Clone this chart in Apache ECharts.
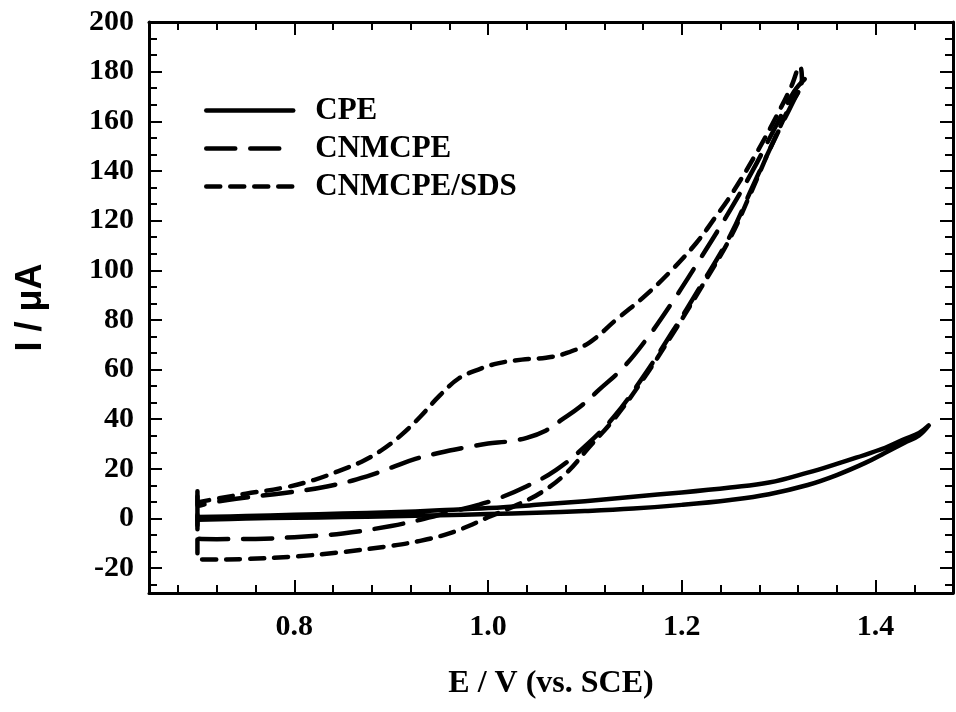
<!DOCTYPE html>
<html>
<head>
<meta charset="utf-8">
<script src="https://cdn.jsdelivr.net/npm/echarts@6/dist/echarts.min.js"></script>
<style>
  html, body { margin: 0; padding: 0; background: #fff; }
  #cv { width: 956px; height: 712px; }
</style>
</head>
<body>
<div id="cv"></div>
<script>
// tick labels
var xTicks = [0.8, 1.0, 1.2, 1.4];
var yTicks = [-20, 0, 20, 40, 60, 80, 100, 120, 140, 160, 180, 200];

var seriesNames = ['CPE', 'CNMCPE', 'CNMCPE/SDS'];

// [E / V, I / uA] - forward scan, then reverse scan
var cpeData = [
  [0.700, -0.5], [0.75, 0.0], [0.80, 0.3], [0.85, 0.6], [0.90, 0.9], [0.95, 1.3],
  [1.00, 1.8], [1.05, 2.3], [1.10, 3.0], [1.15, 4.0], [1.20, 5.5], [1.25, 7.5],
  [1.29, 9.8], [1.33, 13.5], [1.36, 17.5], [1.39, 22.5], [1.41, 26.5], [1.43, 30.5],
  [1.445, 33.5], [1.455, 37.5],
  [1.445, 34.5], [1.43, 32.0], [1.41, 28.5], [1.38, 24.5], [1.36, 22.0], [1.33, 18.5],
  [1.29, 14.5], [1.25, 12.5], [1.20, 10.5], [1.15, 8.8], [1.10, 7.0], [1.05, 5.5],
  [1.00, 4.2], [0.95, 3.3], [0.90, 2.5], [0.85, 2.0], [0.80, 1.5], [0.75, 1.0], [0.700, 0.6]
];

var cnmData = [
  [0.700, 9], [0.700, -8], [0.72, -8.3], [0.76, -8.2], [0.80, -7.5], [0.85, -6], [0.90, -3],
  [0.93, -0.5], [0.96, 2.5], [0.99, 5.5], [1.01, 8], [1.04, 13], [1.07, 19.5], [1.10, 29],
  [1.13, 41], [1.16, 57], [1.19, 75], [1.22, 94], [1.25, 114], [1.27, 131], [1.29, 148],
  [1.31, 164], [1.327, 177],
  [1.316, 172], [1.297, 158], [1.273, 140], [1.245, 121], [1.218, 104],
  [1.19, 87], [1.165, 73], [1.14, 61], [1.115, 52], [1.095, 45], [1.075, 39.5], [1.06, 35.5],
  [1.04, 32.5], [1.02, 31], [1.00, 30.2], [0.975, 28.5], [0.95, 26.5], [0.925, 24],
  [0.90, 20.5], [0.875, 17], [0.835, 13], [0.79, 10.3], [0.74, 8], [0.71, 6], [0.700, 5]
];

var sdsData = [
  [0.700, 11], [0.700, -16], [0.71, -16.5], [0.75, -16.3], [0.80, -15.3], [0.85, -13.5],
  [0.90, -11], [0.93, -9], [0.96, -6], [0.98, -3], [1.00, 0.5], [1.03, 5.5], [1.055, 10.5],
  [1.08, 18], [1.105, 29], [1.13, 40], [1.16, 56], [1.19, 74], [1.22, 93], [1.25, 113],
  [1.27, 130], [1.29, 148], [1.31, 165], [1.324, 177], [1.322, 182],
  [1.313, 174], [1.303, 166], [1.279, 148.5], [1.252, 131], [1.234, 121], [1.215, 111],
  [1.187, 99], [1.16, 89], [1.132, 80], [1.105, 71], [1.08, 66.5], [1.06, 64.8], [1.035, 64],
  [1.01, 62.5], [0.99, 60], [0.97, 56.5], [0.95, 49.5], [0.93, 41], [0.91, 33.5], [0.89, 27.5],
  [0.87, 23], [0.845, 19], [0.82, 15.5], [0.79, 12.5], [0.75, 10], [0.72, 8], [0.700, 6.5]
];

var X_MIN = 0.65, X_MAX = 1.48, Y_MIN = -30, Y_MAX = 200;
var serif = '"Liberation Serif", "Times New Roman", serif';
var sans = '"Liberation Sans", Arial, sans-serif';

// minor ticks between (and outside) the major ones
function minorTicks(major, parts, lo, hi) {
  var step = (major[1] - major[0]) / parts;
  var out = [];
  var n0 = Math.ceil((lo - major[0]) / step - 1e-6);
  var n1 = Math.floor((hi - major[0]) / step + 1e-6);
  for (var i = n0; i <= n1; i++) {
    if (i % parts === 0) continue;
    var v = major[0] + i * step;
    if (v <= lo + 1e-6 || v >= hi - 1e-6) continue;
    out.push(+v.toFixed(4));
  }
  return out;
}

function axis(dim, pos, ticks, len, showLine, showLabel) {
  var isX = dim === 'x';
  return {
    type: 'value',
    position: pos,
    min: isX ? X_MIN : Y_MIN,
    max: isX ? X_MAX : Y_MAX,
    axisLine: { show: showLine, onZero: false, lineStyle: { color: '#000', width: 3 } },
    axisTick: { show: true, inside: true, length: len, customValues: ticks,
      lineStyle: { color: '#000', width: 2 } },
    axisLabel: {
      show: showLabel, customValues: ticks, margin: isX ? 19 : 15,
      color: '#000', fontFamily: serif, fontWeight: 'bold', fontSize: 30,
      formatter: function (v) { return isX ? v.toFixed(1) : String(v); }
    },
    splitLine: { show: false }
  };
}

var xMinor = minorTicks(xTicks, 5, X_MIN, X_MAX);
var yMinor = minorTicks(yTicks, 3, Y_MIN, Y_MAX);

var xMain = axis('x', 'bottom', xTicks, 13, true, true);
xMain.name = 'E / V (vs. SCE)';
xMain.nameLocation = 'middle';
xMain.nameGap = 75;
xMain.nameTextStyle = { color: '#000', fontFamily: serif, fontWeight: 'bold', fontSize: 32 };

var yMain = axis('y', 'left', yTicks, 13, true, true);
yMain.name = 'I / μA';
yMain.nameLocation = 'middle';
yMain.nameGap = 100;
yMain.nameTextStyle = { color: '#000', fontFamily: sans, fontWeight: 'bold', fontSize: 36 };

var lineBase = { color: '#000', width: 4.5, cap: 'round', join: 'round' };

var chart = echarts.init(document.getElementById('cv'));
chart.setOption({
  animation: false,
  backgroundColor: '#fff',
  grid: { left: 149, right: 3, top: 22, bottom: 119, containLabel: false, outerBoundsMode: 'none' },
  legend: {
    orient: 'vertical',
    left: 199, top: 90,
    itemWidth: 87, itemHeight: 14, itemGap: 7,
    data: seriesNames,
    itemStyle: { opacity: 0 },
    lineStyle: { width: 4.5, cap: 'round' },
    textStyle: { color: '#000', fontFamily: serif, fontWeight: 'bold', fontSize: 31, padding: [0, 0, 0, 17] }
  },
  xAxis: [
    xMain,
    axis('x', 'bottom', xMinor, 8, false, false),
    axis('x', 'top', xTicks, 13, true, false),
    axis('x', 'top', xMinor, 8, false, false)
  ],
  yAxis: [
    yMain,
    axis('y', 'left', yMinor, 8, false, false),
    axis('y', 'right', yTicks, 13, true, false),
    axis('y', 'right', yMinor, 8, false, false)
  ],
  series: [
    { name: seriesNames[0], type: 'line', data: cpeData, showSymbol: false, symbol: 'none',
      smooth: 0.4, itemStyle: { color: '#000' },
      lineStyle: Object.assign({ type: 'solid' }, lineBase) },
    { name: seriesNames[1], type: 'line', data: cnmData, showSymbol: false, symbol: 'none',
      smooth: 0.4, itemStyle: { color: '#000' },
      lineStyle: Object.assign({ type: [29, 15] }, lineBase) },
    { name: seriesNames[2], type: 'line', data: sdsData, showSymbol: false, symbol: 'none',
      smooth: 0.4, itemStyle: { color: '#000' },
      lineStyle: Object.assign({ type: [14, 10] }, lineBase) }
  ]
});
</script>
</body>
</html>
